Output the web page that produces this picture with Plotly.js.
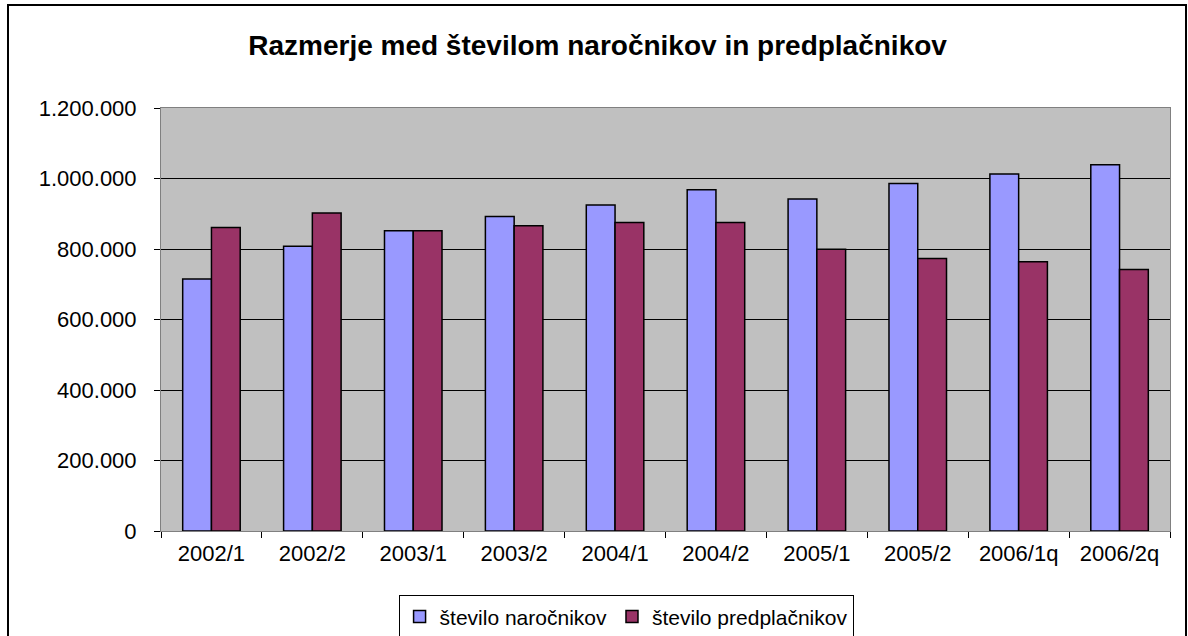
<!DOCTYPE html>
<html>
<head>
<meta charset="utf-8">
<script src="https://cdn.plot.ly/plotly-3.0.1.min.js"></script>
<style>
html,body{margin:0;padding:0;background:#fff;}
#wrap{position:relative;width:1188px;height:636px;overflow:hidden;}
#chart{width:1188px;height:636px;}
#frame{position:absolute;left:7px;top:4px;width:1180px;height:640px;border:2px solid #000;pointer-events:none;box-sizing:border-box;}
</style>
</head>
<body>
<div id="wrap"><div id="chart"></div><div id="frame"></div></div>
<script>
const categories = ['2002/1','2002/2','2003/1','2003/2','2004/1','2004/2','2005/1','2005/2','2006/1q','2006/2q'];
const narocniki = [715000, 808000, 852000, 892000, 925000, 968000, 942000, 986000, 1013000, 1039000];
const predplacniki = [861000, 902000, 852000, 866000, 875000, 875000, 799000, 773000, 764000, 742000];
const seriesNames = ['število naročnikov', 'število predplačnikov'];
const yTicks = [0, 200000, 400000, 600000, 800000, 1000000, 1200000];

const FONT = 'Liberation Sans, Arial, sans-serif';

const traces = [
  {type:'bar', name:seriesNames[0], x:categories, y:narocniki,
   marker:{color:'#9999FF', line:{color:'#000', width:1.5}}},
  {type:'bar', name:seriesNames[1], x:categories, y:predplacniki,
   marker:{color:'#993366', line:{color:'#000', width:1.5}}}
];

const layout = {
  width:1188, height:636,
  margin:{l:161, r:18, t:108, b:105, pad:0},
  paper_bgcolor:'#fff', plot_bgcolor:'#C0C0C0',
  separators:',.',
  font:{family:FONT, color:'#000', size:22},
  title:{text:'Razmerje med številom naročnikov in predplačnikov',
         font:{family:FONT, size:28, color:'#000', weight:'bold'},
         x:0.503, xanchor:'center', xref:'container', y:0.929, yanchor:'middle', yref:'container'},
  barmode:'group', bargap:0.43, bargroupgap:0,
  showlegend:true,
  legend:{orientation:'h', x:0.527, xanchor:'center', xref:'container',
          y:0.064, yanchor:'top', yref:'container',
          bordercolor:'#000', borderwidth:1, bgcolor:'#fff',
          font:{family:FONT, size:21, color:'#000'}, traceorder:'normal'},
  xaxis:{type:'category', showgrid:false, zeroline:false, automargin:false,
         showline:true, linecolor:'#808080', linewidth:1, mirror:true,
         ticks:'outside', tickson:'boundaries', ticklen:6, tickcolor:'#000',
         tickfont:{family:FONT, size:22, color:'#000'}, ticklabelstandoff:3},
  yaxis:{range:[0,1200000], tickvals:yTicks, tickformat:',d', automargin:false,
         showgrid:true, gridcolor:'#000', gridwidth:1, zeroline:false,
         showline:true, linecolor:'#808080', linewidth:1, mirror:true,
         ticks:'outside', ticklen:6, tickcolor:'#000',
         tickfont:{family:FONT, size:22, color:'#000'}, ticklabelstandoff:13}
};

Plotly.newPlot('chart', traces, layout, {displayModeBar:false, staticPlot:true});
</script>
</body>
</html>
